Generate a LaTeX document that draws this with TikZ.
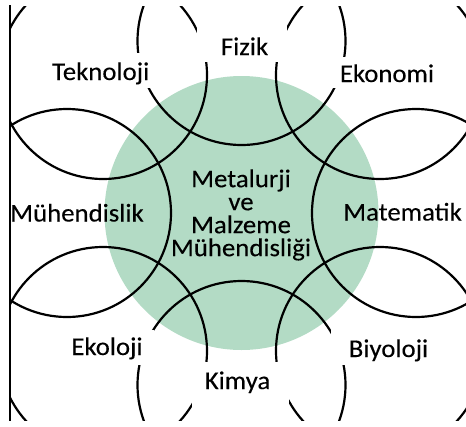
\documentclass[tikz,border=0pt]{standalone}
\usepackage{fontspec}
\setmainfont{Carlito}[FakeStretch=1.05,FakeBold=0.2]
\definecolor{mint}{RGB}{179,219,197}
\begin{document}
\begin{tikzpicture}[x=1pt,y=-1pt,
  ring/.style={line width=2.2pt, draw=black},
  hole/.style={fill=white},
  lbl/.style={font=\fontsize{25.5}{23}\selectfont, inner sep=0pt, anchor=base},
  core/.style={font=\fontsize{25.5}{23}\selectfont, inner sep=0pt, align=center}]
\useasboundingbox (0,0) rectangle (466,426);
% central disc
\coordinate (c0) at (241.5,213);
\fill[mint] (c0) circle[radius=137pt];
% circle centres
\coordinate (cF) at (241.5,41);
\coordinate (cT) at (103,75);
\coordinate (cE) at (380,75);
\coordinate (cM) at (67,213);
\coordinate (cMa) at (416,213);
\coordinate (cEk) at (103,351);
\coordinate (cB) at (380,351);
\coordinate (cK) at (241.5,385);
\begin{scope}
  \clip (10,6) rectangle (466,420);
  \foreach \c in {cF,cT,cE,cM,cMa,cEk,cB,cK}
    \draw[ring] (\c) circle[radius=104pt];
\end{scope}
% gaps behind the outer labels
\fill[hole] (197,18) rectangle (287,62);
\fill[hole] (50,53) rectangle (150,88);
\fill[hole] (333,57) rectangle (433,88);
\fill[hole] (53,330) rectangle (154,365);
\fill[hole] (331,328) rectangle (431,365);
\fill[hole] (192,362) rectangle (289,410);
% left rule
\coordinate (lt) at (10,5);
\coordinate (lb) at (10,421);
\draw[line width=2.2pt] (lt) -- (lb);
% labels
\node[lbl] (fizik) at (244.5,55) {Fizik};
\node[lbl] (tek) at (100.7,80) {Teknoloji};
\node[lbl] (eko) at (387,82) {Ekonomi};
\node[lbl] (muh) at (77,221.5) {Mühendislik};
\node[lbl] (mat) at (402.5,220.5) {Matematik};
\node[lbl] (ekol) at (107,355) {Ekoloji};
\node[lbl] (biy) at (388.5,357) {Biyoloji};
\node[lbl] (kim) at (237.5,389) {Kimya};
\node[core] (met) at (241,215) {Metalurji\\ve\\Malzeme\\Mühendisliği};
\end{tikzpicture}
\end{document}
